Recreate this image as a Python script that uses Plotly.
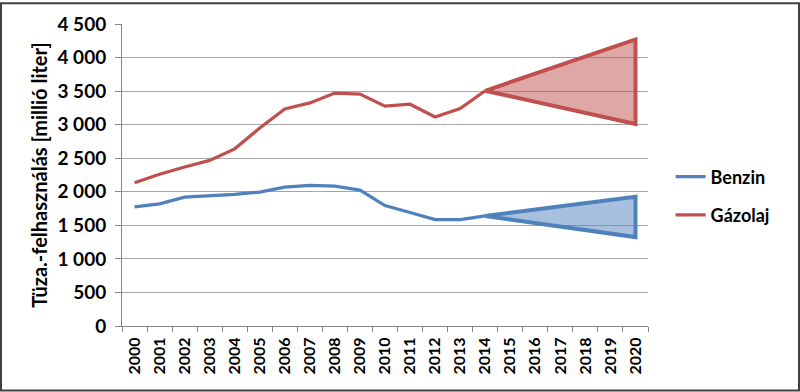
import plotly.graph_objects as go

years = [str(y) for y in range(2000, 2021)]
hist_years = [str(y) for y in range(2000, 2015)]
benzin = [1775, 1820, 1920, 1935, 1960, 1995, 2070, 2095, 2085, 2025, 1795, 1690, 1585, 1585, 1640]
gazolaj = [2135, 2260, 2368, 2468, 2640, 2950, 3235, 3324, 3470, 3455, 3275, 3305, 3115, 3240, 3505]
benzin_2020_high, benzin_2020_low = 1925, 1325
gazolaj_2020_high, gazolaj_2020_low = 4270, 3010

BLUE = "#4F81BD"
RED = "#C0504D"
font = "Lato, 'Open Sans', sans-serif"

fig = go.Figure()

# forecast triangles
tri_x = ["2014", "2020", "2020", "2014"]
fig.add_trace(go.Scatter(
    x=tri_x, y=[gazolaj[-1], gazolaj_2020_high, gazolaj_2020_low, gazolaj[-1]],
    mode="lines", fill="toself", fillcolor="rgba(192,80,77,0.5)",
    line=dict(color=RED, width=4), showlegend=False, hoverinfo="skip"))
fig.add_trace(go.Scatter(
    x=tri_x, y=[benzin[-1], benzin_2020_high, benzin_2020_low, benzin[-1]],
    mode="lines", fill="toself", fillcolor="rgba(79,129,189,0.5)",
    line=dict(color=BLUE, width=4), showlegend=False, hoverinfo="skip"))

fig.add_trace(go.Scatter(x=hist_years, y=benzin, mode="lines", name="Benzin",
                         legendgroup="b", line=dict(color=BLUE, width=3.2)))
fig.add_trace(go.Scatter(x=hist_years, y=gazolaj, mode="lines", name="Gázolaj",
                         legendgroup="g", line=dict(color=RED, width=3.2)))

fig.update_layout(
    width=800, height=392,
    margin=dict(l=122, r=152, t=22, b=66),
    paper_bgcolor="white", plot_bgcolor="white",
    separators=", ",
    font=dict(family=font, size=15, color="black"),
    legend=dict(x=1.043, y=0.431, xanchor="left", yanchor="middle",
                font=dict(family=font, size=18, color="black", weight="bold"),
                tracegroupgap=12, itemwidth=30),
    showlegend=True,
)
fig.update_xaxes(
    type="category", categoryorder="array", categoryarray=years,
    range=[-0.5, 20.5],
    tickangle=-90, tickson="boundaries", ticks="outside", ticklen=5,
    tickcolor="#868686", showline=True, linecolor="#868686", linewidth=1,
    showgrid=False, tickfont=dict(family=font, size=16, weight="bold"),
    ticklabelstandoff=4,
)
fig.update_yaxes(
    range=[0, 4500], dtick=500, tickformat=",d",
    ticks="outside", ticklen=6, tickcolor="#868686",
    showline=True, linecolor="#868686", linewidth=1,
    showgrid=True, gridcolor="#A6A6A6", gridwidth=1,
    zeroline=False, ticklabelstandoff=5,
    tickfont=dict(family=font, size=19, weight="bold"),
    title=dict(text="Tüza.-felhasználás [millió liter]",
               font=dict(family=font, size=20, weight="bold"), standoff=4),
)
fig.add_shape(type="rect", xref="paper", yref="paper",
              x0=-121/526, x1=1 + 151/526, y0=-65/304, y1=1 + 21/304,
              line=dict(color="#404040", width=2), layer="above")

fig.write_html("out.html", config={"displayModeBar": False},
               post_script="document.body.style.margin='0';document.body.style.overflow='hidden';")
